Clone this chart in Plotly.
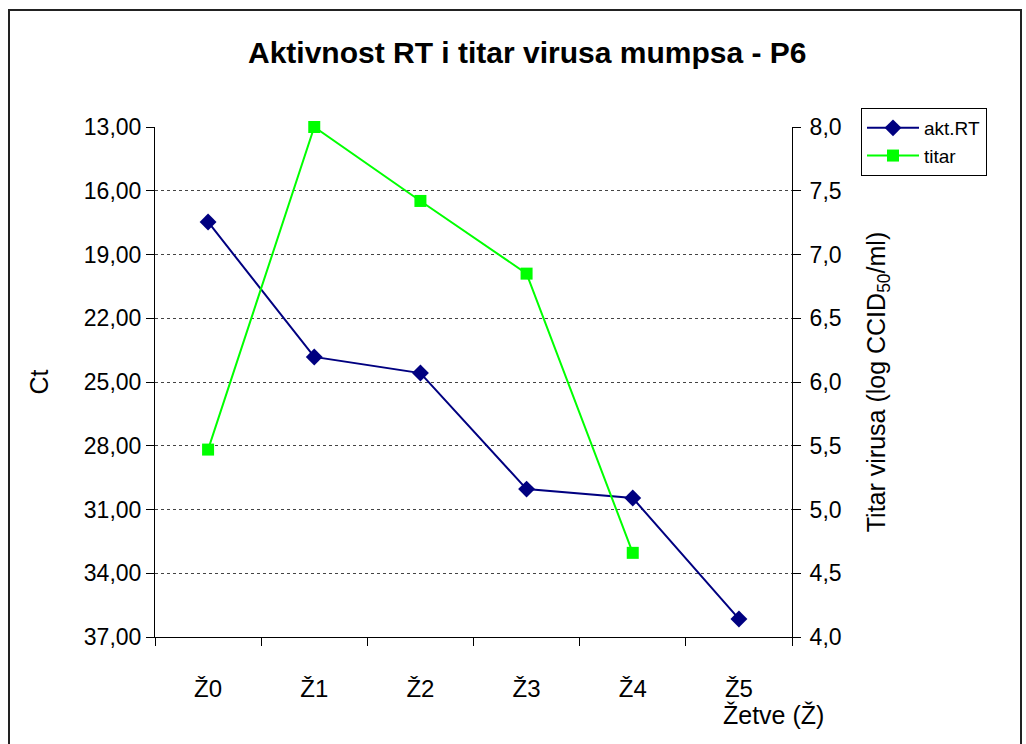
import plotly.graph_objects as go

# Harvest points (Žetve) and measured series
categories = ["Ž0", "Ž1", "Ž2", "Ž3", "Ž4", "Ž5"]
akt_rt_ct = [17.47, 23.82, 24.58, 30.04, 30.46, 36.15]
titar_cats = ["Ž0", "Ž1", "Ž2", "Ž3", "Ž4"]
titar_log = [5.47, 8.0, 7.42, 6.85, 4.66]

ct_ticks = [13, 16, 19, 22, 25, 28, 31, 34, 37]
titar_ticks = [4.0, 4.5, 5.0, 5.5, 6.0, 6.5, 7.0, 7.5, 8.0]

FONT = "Liberation Sans, Arial, sans-serif"

fig = go.Figure()

fig.add_trace(go.Scatter(
    x=categories, y=akt_rt_ct, name="akt.RT", mode="lines+markers",
    line=dict(color="#000080", width=2),
    marker=dict(symbol="diamond", size=13, color="#000080"),
    yaxis="y", cliponaxis=False,
))
fig.add_trace(go.Scatter(
    x=titar_cats, y=titar_log, name="titar", mode="lines+markers",
    line=dict(color="#00FF00", width=2),
    marker=dict(symbol="square", size=12, color="#00FF00"),
    yaxis="y2", cliponaxis=False,
))

W, H = 1026, 744
L, R, T, B = 155, 792, 127, 637
pw, ph = R - L, B - T


def px_x(p):
    return (p - L) / pw


def px_y(p):
    return (B - p) / ph


fig.update_layout(
    width=W, height=H,
    margin=dict(l=L, r=W - R, t=T, b=H - B, pad=0),
    paper_bgcolor="white", plot_bgcolor="white",
    separators=",.",
    font=dict(family=FONT, size=22, color="black"),
    showlegend=True,
    legend=dict(
        x=px_x(861), y=px_y(108), xanchor="left", yanchor="top",
        xref="paper", yref="paper",
        bgcolor="white", bordercolor="black", borderwidth=1,
        font=dict(size=19, family=FONT),
        tracegroupgap=0, itemwidth=52,
    ),
    xaxis=dict(
        type="category", categoryorder="array", categoryarray=categories,
        range=[-0.5, 5.5],
        showline=True, linecolor="black", linewidth=1,
        ticks="outside", ticklen=8, tickcolor="black", tickson="boundaries",
        ticklabelstandoff=30,
        showgrid=False, zeroline=False,
        tickfont=dict(size=24),
    ),
    yaxis=dict(
        range=[37, 13], tickvals=ct_ticks, tickformat=".2f",
        showline=True, linecolor="black", linewidth=1,
        ticks="outside", ticklen=8, tickcolor="black",
        showgrid=True, gridcolor="#444444", gridwidth=1, griddash="3px,3px",
        zeroline=False,
        title=dict(text="Ct", font=dict(size=25), standoff=28),
        tickfont=dict(size=23),
    ),
    yaxis2=dict(
        range=[4, 8], tickvals=titar_ticks, tickformat=".1f",
        overlaying="y", side="right",
        showline=True, linecolor="black", linewidth=1,
        ticks="outside", ticklen=8, tickcolor="black",
        ticklabelstandoff=4,
        showgrid=False, zeroline=False,
        title=dict(text="Titar virusa (log CCID<sub>50</sub>/ml)", font=dict(size=25), standoff=26),
        tickfont=dict(size=23),
    ),
    annotations=[
        dict(text="<b>Aktivnost RT i titar virusa mumpsa - P6</b>",
             x=px_x(527), y=px_y(52), xref="paper", yref="paper",
             xanchor="center", yanchor="middle", showarrow=False,
             font=dict(size=30, family=FONT)),
        dict(text="Žetve (Ž)",
             x=px_x(826), y=px_y(715), xref="paper", yref="paper",
             xanchor="right", yanchor="middle", showarrow=False,
             font=dict(size=25, family=FONT)),
    ],
    shapes=[
        dict(type="rect", xref="paper", yref="paper",
             x0=px_x(9), x1=px_x(1021), y0=px_y(760), y1=px_y(10),
             line=dict(color="#222222", width=2), fillcolor="rgba(0,0,0,0)",
             layer="below"),
    ],
)

fig.write_html("out.html")
